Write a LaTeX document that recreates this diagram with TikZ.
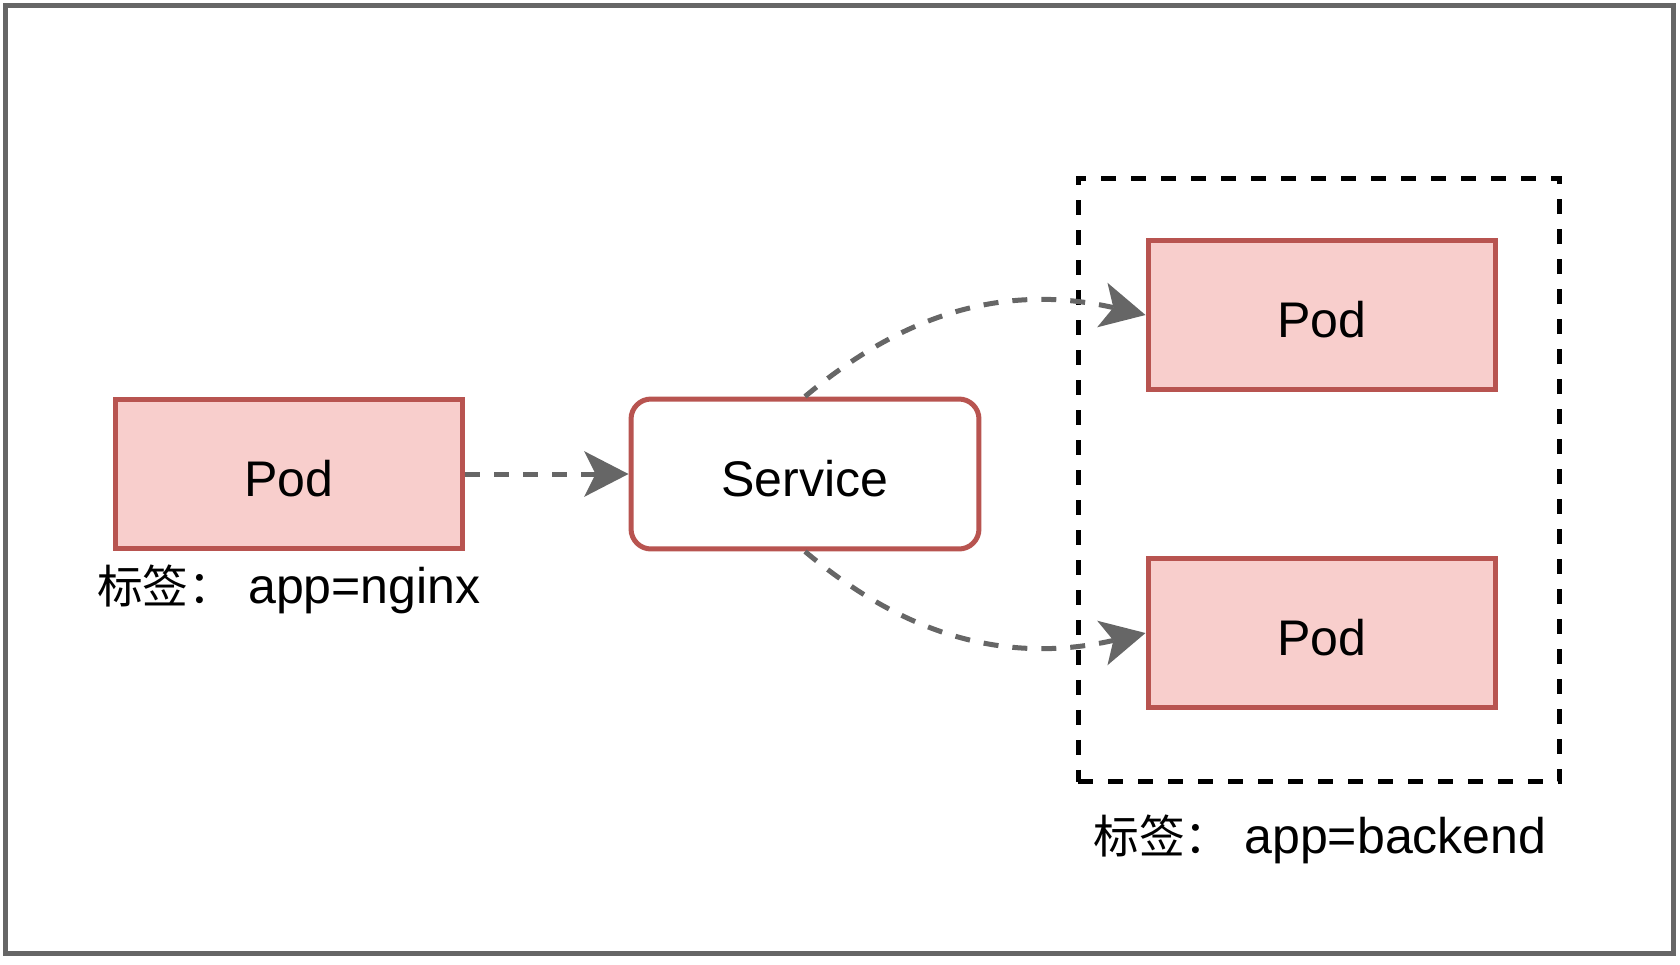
\documentclass[tikz,border=0pt]{standalone}
\usepackage{fontspec}
\setmainfont{Liberation Sans}
\newfontfamily\cjk{Noto Sans CJK SC}
\usetikzlibrary{arrows.meta}
\definecolor{podfill}{HTML}{F8CECC}
\definecolor{podline}{HTML}{B85450}
\definecolor{linkgray}{HTML}{666666}

\begin{document}
\begin{tikzpicture}[x=0.02cm,y=-0.02cm,
  >={Stealth[length=0.88cm,width=0.9cm,inset=0.22cm]},
  pod/.style={shape=rectangle,draw=podline,fill=podfill,line width=0.1cm,
    minimum width=6.96cm,minimum height=3cm,font=\fontsize{28.5}{34}\selectfont,
    text height=0.88cm,text depth=0cm},
  svc/.style={pod,fill=white,rounded corners=0.4cm},
  group/.style={shape=rectangle,draw=black,line width=0.1cm,
    dash pattern=on 0.3cm off 0.3cm,minimum width=9.64cm,minimum height=12.08cm},
  link/.style={->,draw=linkgray,line width=0.1cm,dash pattern=on 0.3cm off 0.28cm},
  tag/.style={anchor=base,font=\fontsize{28.5}{34}\selectfont}]
\useasboundingbox (0,0) rectangle (1680,964);
\draw [linkgray,line width=0.1cm] (5.5,5.5) rectangle (1673.5,953.5);
\node (backend) at (1319, 480) [group] {};
\node    (pod1) at ( 289, 474) [pod] {Pod};
\node (service) at ( 805, 474) [svc] {Service};
\node    (pod2) at (1322, 315) [pod] {Pod};
\node    (pod3) at (1322, 633) [pod] {Pod};
\node  (tag1) at ( 289, 603) [tag] {{\cjk\fontsize{26}{34}\selectfont 标签：} app=nginx};
\node  (tag2) at (1320, 853) [tag] {{\cjk\fontsize{26}{34}\selectfont 标签：} app=backend};
\draw [link] (pod1) -- (service);
\draw [link] (service.north) to [out=40,in=167] (pod2.west);
\draw [link] (service.south) to [out=-40,in=-167] (pod3.west);
\end{tikzpicture}
\end{document}
